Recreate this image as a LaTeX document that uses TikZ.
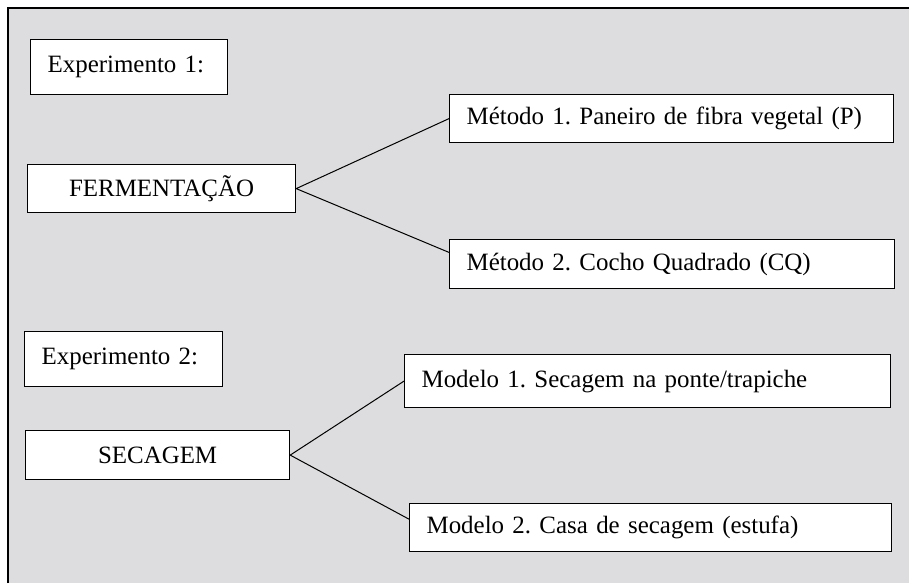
\documentclass[tikz,border=0pt]{standalone}
\usepackage{fontspec}
\setmainfont[WordSpace=0.8]{Liberation Serif}
\frenchspacing
\definecolor{fundo}{RGB}{221,220,222}
\tikzset{
  caixa/.style={draw=black, line width=0.9pt, fill=white, anchor=north west, inner sep=0pt, font=\fontsize{18.7}{22}\selectfont},
  esq/.style={inner xsep=12.75pt, align=left},
  ligacao/.style={draw=black, line width=0.75pt}
}
\begin{document}
\begin{tikzpicture}[x=0.75pt,y=-0.75pt]
\def\larg{909};
\def\alt{583};
\useasboundingbox (0,0) rectangle (\larg,\alt);
\fill[fundo] (8,8) rectangle (\larg,\alt);
\draw[line width=0.9pt] (8,\alt)--(8,8)--(\larg,8);
\node[caixa,esq,text width=122.25pt,minimum height=41.25pt] (exp1) at (30,39) {Experimento 1:};
\node[caixa,minimum width=201pt,minimum height=36pt] (ferm) at (27,164) {FERMENTAÇÃO};
\node[caixa,esq,text width=307.5pt,minimum height=36pt] (met1) at (449,94) {Método 1. Paneiro de fibra vegetal (P)};
\node[caixa,esq,text width=308.25pt,minimum height=36.75pt] (met2) at (449,239) {Método 2. Cocho Quadrado (CQ)};
\node[caixa,esq,text width=123pt,minimum height=41.25pt] (exp2) at (24,331) {Experimento 2:};
\node[caixa,minimum width=198pt,minimum height=36.75pt] (sec) at (25,430) {SECAGEM};
\node[caixa,esq,text width=339pt,minimum height=39.75pt] (mod1) at (404,354) {Modelo 1. Secagem na ponte/trapiche};
\node[caixa,esq,text width=336pt,minimum height=36pt] (mod2) at (409,503) {Modelo 2. Casa de secagem (estufa)};
\draw[ligacao] (met1.west)--(ferm.east)--(met2.177);
\draw[ligacao] (mod1.west)--(sec.east)--(mod2.178);
\end{tikzpicture}
\end{document}
